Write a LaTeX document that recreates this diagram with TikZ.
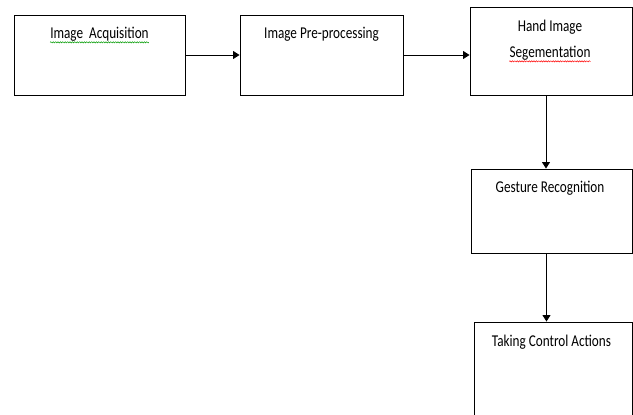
\documentclass[tikz,border=0pt]{standalone}
\usepackage{fontspec}
\setmainfont{Carlito}
\usetikzlibrary{arrows.meta,decorations.pathmorphing}

\newcommand{\squeezed}[1]{\scalebox{0.8}[1]{#1}}

\tikzset{
  blockbox/.style={draw, line width=0.9pt, inner sep=0pt},
  blocktext/.style={inner sep=0pt, align=center, font=\fontsize{16.5}{26}\selectfont},
  flowarrow/.style={-{Triangle[length=6.5pt,width=8pt]}, line width=0.9pt},
  spellmark/.style={decorate, decoration={snake, amplitude=0.6pt, segment length=2.4pt}, line width=0.5pt}
}

\begin{document}
\begin{tikzpicture}[x=1pt, y=-1pt]
\useasboundingbox (0,0) rectangle (633,415);
% Draw boxes
\node[blockbox, minimum width=171pt, minimum height=80pt] (acq) at (99.5,55) {};
\node[blockbox, minimum width=163pt, minimum height=80pt] (prep) at (321.5,55) {};
\node[blockbox, minimum width=162pt, minimum height=88pt] (seg) at (551,51) {};
\node[blockbox, minimum width=161pt, minimum height=84pt] (gest) at (551.5,211) {};
\node[blockbox, minimum width=158pt, minimum height=108pt] (ctrl) at (553,376) {};
% Draw texts
\node[blocktext] (acqtext) at (99.5,34) {\squeezed{Image\ \ Acquisition}};
\node[blocktext] (preptext) at (321.5,34) {\squeezed{Image Pre-processing}};
\node[blocktext] (segtext) at (550,40) {\squeezed{Hand Image}\\\squeezed{Segementation}};
\node[blocktext] (gesttext) at (550,188) {\squeezed{Gesture Recognition}};
\node[blocktext] (ctrltext) at (551.5,342) {\squeezed{Taking Control Actions}};
% Draw spelling marks
\draw[spellmark, green!60!black] ([yshift=-1pt]acqtext.south west) -- ([yshift=-1pt]acqtext.south east);
\draw[spellmark, red] ([yshift=-1pt]segtext.south west) -- ([yshift=-1pt]segtext.south east);
% Draw arrows
\draw[flowarrow] (acq.east) -- (prep.west);
\draw[flowarrow] (prep.east) -- (seg.west |- prep.east);
\draw[flowarrow] ([xshift=-5pt]seg.south) -- ([xshift=-5pt]seg.south |- gest.north);
\draw[flowarrow] ([xshift=-5pt]gest.south) -- ([xshift=-5pt]gest.south |- ctrl.north);
\end{tikzpicture}
\end{document}
